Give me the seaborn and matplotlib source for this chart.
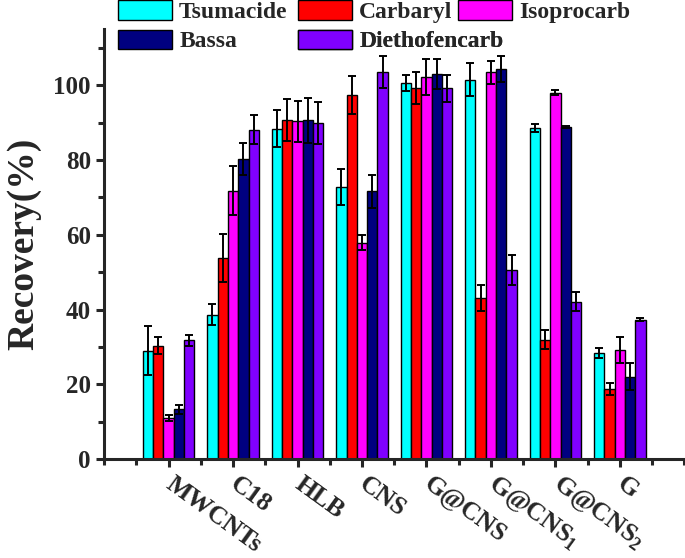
import numpy as np
import pandas as pd
import seaborn as sns
import matplotlib.pyplot as plt
from matplotlib.ticker import MultipleLocator, FixedLocator

# sorbent materials (x categories) and analytes (hue)
sorbents = ["MWCNTs", "C18", "HLB", "CNS", "G@CNS", "G@CNS$_\\mathbf{1}$", "G@CNS$_\\mathbf{2}$", "G"]
analytes = ["Tsumacide", "Carbaryl", "Isoprocarb", "Bassa", "Diethofencarb"]
colors = ["#00FFFF", "#FF0000", "#FF00FF", "#000080", "#8000FF"]

# recovery (%) per analyte, one value per sorbent
tsumacide = [29.0, 38.6, 88.4, 72.8, 100.6, 101.4, 88.5, 28.3]
carbaryl = [30.3, 53.8, 90.6, 97.4, 99.2, 43.2, 32.0, 18.9]
isoprocarb = [11.0, 71.8, 90.3, 57.9, 102.1, 103.4, 98.0, 29.2]
bassa = [13.3, 80.2, 90.6, 71.6, 102.9, 104.3, 88.9, 22.1]
diethofencarb = [31.8, 88.1, 89.9, 103.5, 99.1, 50.5, 42.1, 37.3]

# standard deviations
tsumacide_sd = [6.6, 2.8, 5.0, 4.9, 2.2, 4.4, 1.1, 1.3]
carbaryl_sd = [2.3, 6.4, 5.6, 5.1, 4.2, 3.5, 2.6, 1.6]
isoprocarb_sd = [0.8, 6.5, 5.5, 2.1, 4.8, 3.1, 0.7, 3.5]
bassa_sd = [1.2, 4.3, 6.0, 4.4, 4.0, 3.5, 0.3, 3.7]
diethofencarb_sd = [1.5, 3.9, 5.7, 4.4, 3.6, 4.0, 2.5, 0.4]

values = [tsumacide, carbaryl, isoprocarb, bassa, diethofencarb]
errors = [tsumacide_sd, carbaryl_sd, isoprocarb_sd, bassa_sd, diethofencarb_sd]

df = pd.DataFrame({
    "Sorbent": sorbents * len(analytes),
    "Analyte": np.repeat(analytes, len(sorbents)),
    "Recovery": np.concatenate(values),
    "SD": np.concatenate(errors),
})

sns.set_style("ticks")
plt.rcParams["font.family"] = ["Liberation Serif", "DejaVu Serif"]
plt.rcParams["font.weight"] = "bold"
plt.rcParams["mathtext.fontset"] = "custom"
plt.rcParams["mathtext.rm"] = "Liberation Serif:bold"
plt.rcParams["mathtext.bf"] = "Liberation Serif:bold"
plt.rcParams["axes.linewidth"] = 2.2

fig = plt.figure(figsize=(6.85, 5.58), dpi=100)
ax = fig.add_axes([0.152, 0.177, 0.847, 0.771])

sns.barplot(data=df, x="Sorbent", y="Recovery", hue="Analyte", hue_order=analytes,
            palette=colors, order=sorbents, errorbar=None, width=0.8,
            edgecolor="black", linewidth=1.0, saturation=1, ax=ax)

# error bars on each bar
for cont, err in zip(ax.containers, errors):
    xs = [p.get_x() + p.get_width() / 2 for p in cont]
    hs = [p.get_height() for p in cont]
    ax.errorbar(xs, hs, yerr=err, fmt="none", ecolor="black",
                elinewidth=1.4, capsize=2.6, capthick=1.4, zorder=5)

ax.set_xlim(-1, 8)
ax.set_ylim(0, 115)
ax.set_yticks([0, 20, 40, 60, 80, 100])
ax.yaxis.set_minor_locator(MultipleLocator(10))
ax.xaxis.set_minor_locator(FixedLocator(np.arange(-1, 8.01, 0.5)))
ax.tick_params(axis="both", which="major", length=6, width=2.2, labelsize=18)
ax.tick_params(axis="both", which="minor", length=4, width=2.2)
ax.tick_params(axis="x", which="major", pad=10)

ax.set_xticks(range(len(sorbents)))
ax.set_xticklabels(sorbents, rotation=-36, ha="left", va="center",
                   rotation_mode="anchor", fontsize=18.5, fontweight="bold")
for lab in ax.get_yticklabels():
    lab.set_fontweight("bold")

ax.set_xlabel("")
ax.set_ylabel("Recovery(%)", fontsize=27, fontweight="bold", labelpad=9)
sns.despine(ax=ax)

# legend: one entry per slot, laid out as in the original figure
handles, labels = ax.get_legend_handles_labels()
ax.get_legend().remove()
slots = {"Tsumacide": (118, 11.5), "Carbaryl": (298, 11.5), "Isoprocarb": (458, 11.5),
         "Bassa": (118, 41), "Diethofencarb": (298, 41)}
W, H = 685, 558
for h, lab in zip(handles, labels):
    px, py = slots[lab]
    leg = ax.legend([h], [lab], loc="center left",
                    bbox_to_anchor=(px / W, 1 - py / H), bbox_transform=fig.transFigure,
                    frameon=False, prop={"size": 17, "weight": "bold"},
                    handlelength=2.29, handleheight=0.89, handletextpad=0.3,
                    borderpad=0, borderaxespad=0)
    ax.add_artist(leg)

fig.savefig("out.png", dpi=100)
